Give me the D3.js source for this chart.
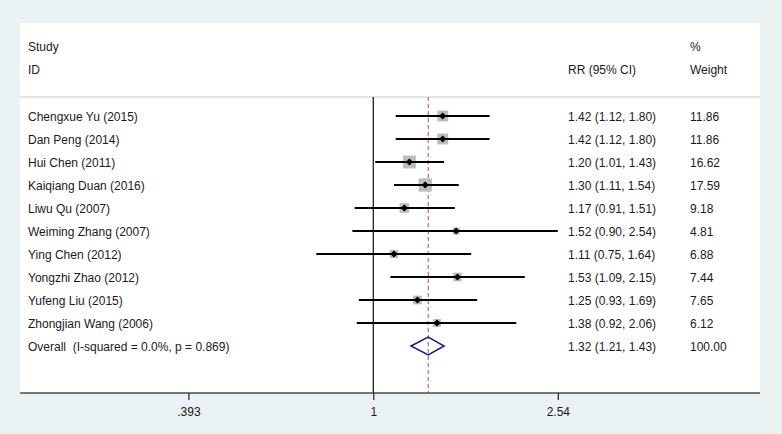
<!DOCTYPE html>
<html>
<head>
<meta charset="utf-8">
<script src="https://cdn.jsdelivr.net/npm/d3@7"></script>
<style>
  html, body { margin: 0; padding: 0; background: #EAF2F3; }
  svg { display: block; }
  text { font-family: "Liberation Sans", Arial, sans-serif; font-size: 12px; fill: #1a1a1a; }
</style>
</head>
<body>
<svg id="chart" width="782" height="434"></svg>
<script>
const studies = ["Chengxue Yu (2015)", "Dan Peng (2014)", "Hui Chen (2011)", "Kaiqiang Duan (2016)",
  "Liwu Qu (2007)", "Weiming Zhang (2007)", "Ying Chen (2012)", "Yongzhi Zhao (2012)",
  "Yufeng Liu (2015)", "Zhongjian Wang (2006)"];
const rr = [1.42, 1.42, 1.20, 1.30, 1.17, 1.52, 1.11, 1.53, 1.25, 1.38];
const lower = [1.12, 1.12, 1.01, 1.11, 0.91, 0.90, 0.75, 1.09, 0.93, 0.92];
const upper = [1.80, 1.80, 1.43, 1.54, 1.51, 2.54, 1.64, 2.15, 1.69, 2.06];
const weights = [11.86, 11.86, 16.62, 17.59, 9.18, 4.81, 6.88, 7.44, 7.65, 6.12];
const overallLabel = "Overall  (I-squared = 0.0%, p = 0.869)";
const overall = [1.32, 1.21, 1.43];
const overallWeight = "100.00";
const tickValues = [0.393, 1, 2.54];
const tickLabels = [".393", "1", "2.54"];

const svg = d3.select("#chart");
const panel = {left: 20, top: 23, right: 760, bottom: 393};
svg.append("rect").attr("x", panel.left).attr("y", panel.top)
  .attr("width", panel.right - panel.left).attr("height", panel.bottom - panel.top)
  .attr("fill", "#ffffff");

const x = d3.scaleLog().domain([0.393, 2.54]).range([188.4, 557.8]);
const rows = studies.concat([overallLabel]);
const y = d3.scalePoint().domain(d3.range(rows.length)).range([116, 346]);

const colStudy = 28, colRR = 568, colW = 690;
const hdr1 = 51, hdr2 = 74;

// headers
svg.append("text").attr("x", colStudy).attr("y", hdr1).text("Study");
svg.append("text").attr("x", colStudy).attr("y", hdr2).text("ID");
svg.append("text").attr("x", colRR).attr("y", hdr2).text("RR (95% CI)");
svg.append("text").attr("x", colW).attr("y", hdr1).text("%");
svg.append("text").attr("x", colW).attr("y", hdr2).text("Weight");

// separator line
const lineTop = 97;
svg.append("line").attr("x1", panel.left).attr("x2", panel.right)
  .attr("y1", lineTop).attr("y2", lineTop)
  .attr("stroke", "#c8c8c8").attr("stroke-width", 1);

// null line
svg.append("line").attr("x1", x(1)).attr("x2", x(1))
  .attr("y1", lineTop).attr("y2", panel.bottom)
  .attr("stroke", "#111").attr("stroke-width", 1.2);

// overall dashed line
svg.append("line").attr("x1", x(overall[0])).attr("x2", x(overall[0]))
  .attr("y1", lineTop).attr("y2", panel.bottom)
  .attr("stroke", "#c06a6a").attr("stroke-width", 1.2)
  .attr("stroke-dasharray", "4,3");

const fmt = d3.format(".2f");
studies.forEach((s, i) => {
  const cy = y(i);
  const side = 3.17 * Math.sqrt(weights[i]);
  svg.append("rect").attr("x", x(rr[i]) - side / 2).attr("y", cy - side / 2)
    .attr("width", side).attr("height", side).attr("fill", "#bdbdbd");
  svg.append("line").attr("x1", x(lower[i])).attr("x2", x(upper[i]))
    .attr("y1", cy).attr("y2", cy).attr("stroke", "#000").attr("stroke-width", 2.2);
  const d = 3.6;
  const px = x(rr[i]);
  svg.append("path").attr("d", `M${px - d},${cy}L${px},${cy - d}L${px + d},${cy}L${px},${cy + d}Z`)
    .attr("fill", "#000");
  svg.append("text").attr("x", colStudy).attr("y", cy + 4.5).text(s);
  svg.append("text").attr("x", colRR).attr("y", cy + 4.5)
    .text(`${fmt(rr[i])} (${fmt(lower[i])}, ${fmt(upper[i])})`);
  svg.append("text").attr("x", colW).attr("y", cy + 4.5).text(fmt(weights[i]));
});

// overall
const oy = y(studies.length);
svg.append("path")
  .attr("d", `M${x(overall[1])},${oy}L${x(overall[0])},${oy - 9}L${x(overall[2])},${oy}L${x(overall[0])},${oy + 9}Z`)
  .attr("fill", "none").attr("stroke", "#1a1a8c").attr("stroke-width", 1.5);
svg.append("text").attr("x", colStudy).attr("y", oy + 4.5).attr("xml:space", "preserve")
  .style("white-space", "pre").text(overallLabel);
svg.append("text").attr("x", colRR).attr("y", oy + 4.5)
  .text(`${fmt(overall[0])} (${fmt(overall[1])}, ${fmt(overall[2])})`);
svg.append("text").attr("x", colW).attr("y", oy + 4.5).text(overallWeight);

// axis
svg.append("line").attr("x1", panel.left).attr("x2", panel.right)
  .attr("y1", panel.bottom).attr("y2", panel.bottom)
  .attr("stroke", "#4a4a4a").attr("stroke-width", 1.5);
const axis = d3.axisBottom(x).tickValues(tickValues)
  .tickFormat((d, i) => tickLabels[i]).tickSize(7).tickPadding(7);
const ag = svg.append("g").attr("transform", `translate(0,${panel.bottom})`).call(axis);
ag.select(".domain").remove();
ag.selectAll(".tick line").attr("stroke", "#222").attr("stroke-width", 1.2);
ag.selectAll(".tick text").attr("fill", "#1a1a1a")
  .style("font-family", '"Liberation Sans", Arial, sans-serif').style("font-size", "12px");
</script>
</body>
</html>
